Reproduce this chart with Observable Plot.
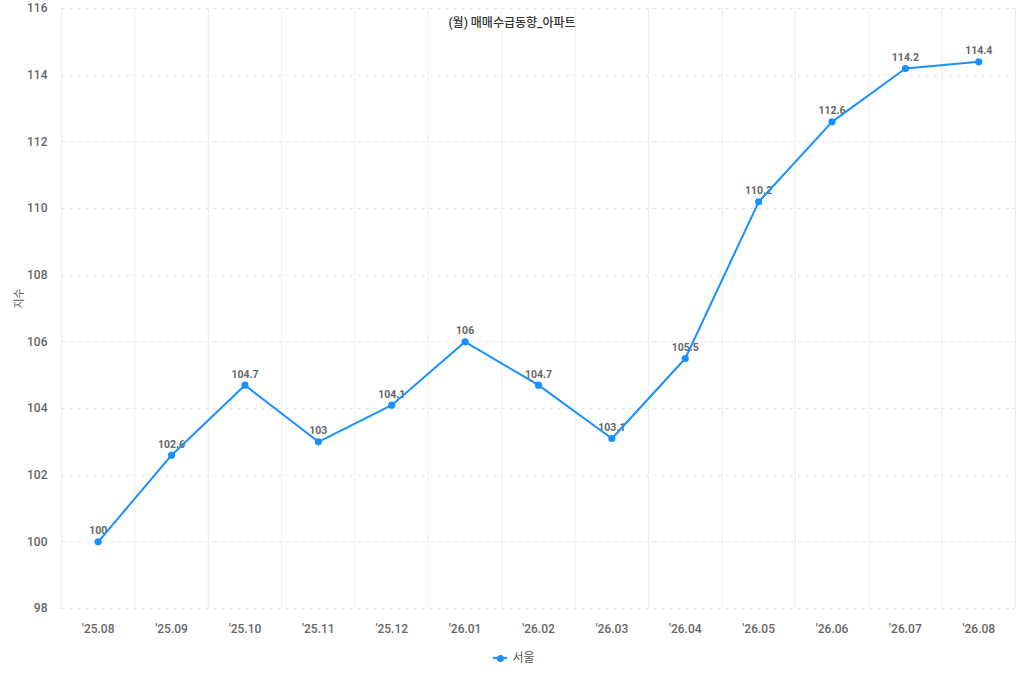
<!DOCTYPE html>
<html>
<head>
<meta charset="utf-8">
<script src="https://cdn.jsdelivr.net/npm/d3@7"></script>
<script src="https://cdn.jsdelivr.net/npm/@observablehq/plot@0.6"></script>
<style>
  body { margin: 0; background: #fff; font-family: Roboto, "Noto Sans CJK KR", sans-serif; }
  #wrap { position: relative; width: 1024px; }
  #title { position: absolute; top: 13px; left: 0; width: 1024px; text-align: center; font-size: 12px; font-weight: 500; color: #333; pointer-events: none; }
  #legend { width: 1024px; height: 20px; line-height: 20px; margin-top: 8px; display: flex; justify-content: center; align-items: center; font-size: 12px; color: #555; }
  #legend .sw { position: relative; width: 14px; height: 2px; background: #1890ff; margin-right: 5px; margin-left: 4px; }
  #legend .sw::after { content: ""; position: absolute; left: 3.5px; top: -2.5px; width: 7px; height: 7px; border-radius: 50%; background: #1890ff; }
</style>
</head>
<body>
<div id="wrap">
  <div id="title"></div>
  <div id="chart"></div>
  <div id="legend"><span class="sw"></span><span id="legname"></span></div>
</div>
<script>
const title = "(월) 매매수급동향_아파트";
const yLabel = "지수";
const seriesName = "서울";
const months = ["'25.08","'25.09","'25.10","'25.11","'25.12","'26.01","'26.02","'26.03","'26.04","'26.05","'26.06","'26.07","'26.08"];
const values = [100, 102.6, 104.7, 103, 104.1, 106, 104.7, 103.1, 105.5, 110.2, 112.6, 114.2, 114.4];
const yTicks = [98, 100, 102, 104, 106, 108, 110, 112, 114, 116];

const data = months.map((m, i) => ({i, m, v: values[i]}));
const bounds = d3.range(months.length + 1).map(i => i - 0.5);

document.getElementById("title").textContent = title;
document.getElementById("legname").textContent = seriesName;

const chart = Plot.plot({
  width: 1024,
  height: 640,
  marginLeft: 61,
  marginRight: 9,
  marginTop: 8,
  marginBottom: 32,
  style: { fontFamily: 'Roboto, "Noto Sans CJK KR", sans-serif', fontSize: "12px", color: "#666", background: "#fff" },
  x: { type: "linear", domain: [-0.5, months.length - 0.5] },
  y: { domain: [98, 116] },
  marks: [
    Plot.ruleY(yTicks, { y: d => d, stroke: "#e6e6e6", strokeDasharray: "4,4", strokeWidth: 1 }),
    Plot.ruleX(bounds, { x: d => d, stroke: "#ededed", strokeWidth: 1 }),
    Plot.axisY({ ticks: yTicks, tickSize: 0, tickPadding: 14, fontWeight: 500, fill: "#666", label: null }),
    Plot.text([yLabel], { frameAnchor: "left", dx: -42, rotate: -90, fill: "#666", fontSize: 11, text: d => d }),
    Plot.axisX({ ticks: d3.range(months.length), tickFormat: i => months[i], tickSize: 0, tickPadding: 16, fontWeight: 500, fill: "#666", label: null }),
    Plot.text(data, { x: "i", y: "v", text: d => String(d.v), dy: -11, fill: "#666", fontWeight: 700, fontSize: 10.5 }),
    Plot.line(data, { x: "i", y: "v", stroke: "#1890ff", strokeWidth: 2 }),
    Plot.dot(data, { x: "i", y: "v", fill: "#1890ff", r: 3.6 })
  ]
});
document.getElementById("chart").appendChild(chart);
</script>
</body>
</html>
